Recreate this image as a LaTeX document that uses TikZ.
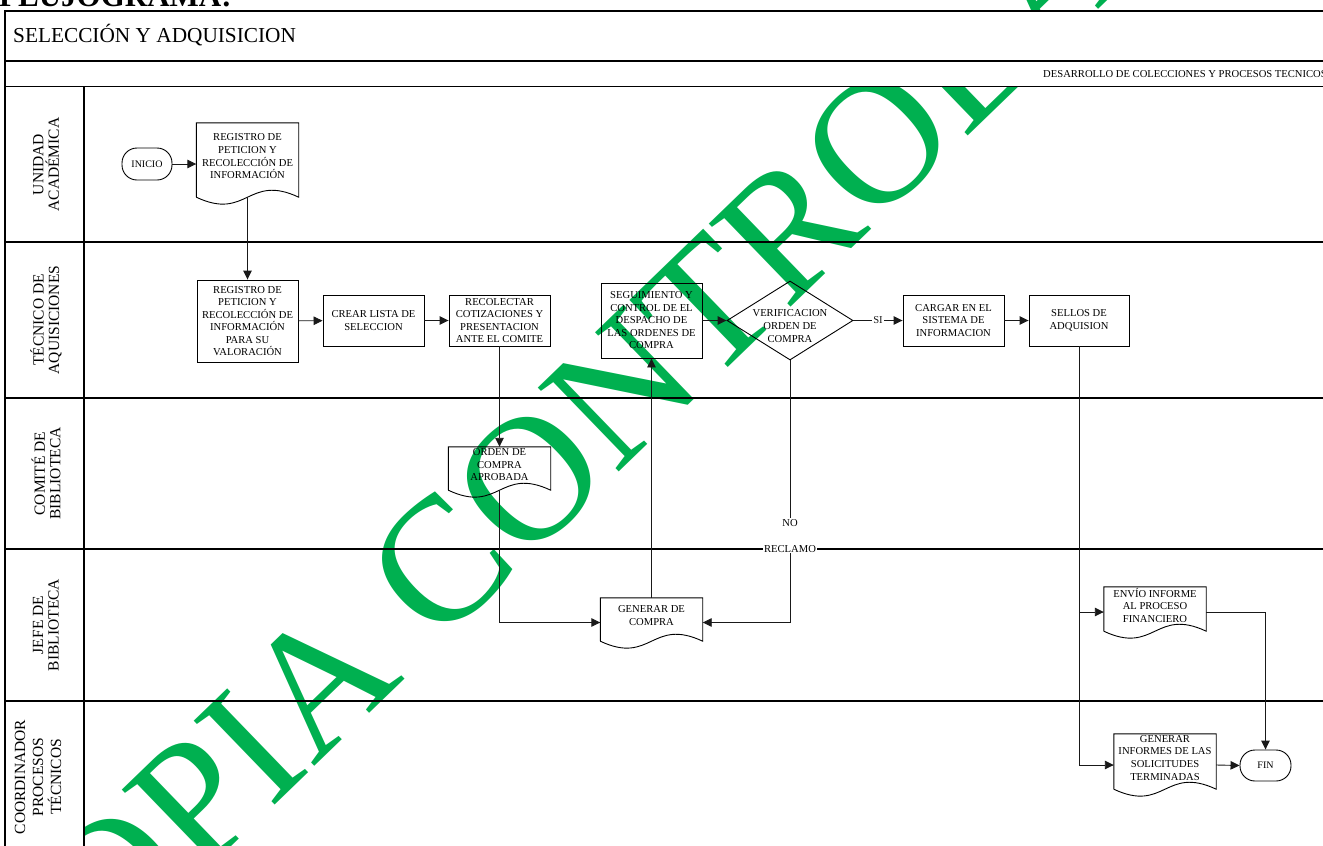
\documentclass[tikz,border=0pt]{standalone}
\usepackage{fontspec}
\setmainfont{Liberation Serif}
\usetikzlibrary{arrows.meta,shapes.geometric,calc}

\definecolor{wmgreen}{RGB}{0,176,80}
\definecolor{connector}{RGB}{25,25,25}

\tikzset{
  frameline/.style={line width=1.6pt, black},
  shapeline/.style={line width=0.9pt, black},
  boxtext/.style={align=center, inner sep=0pt, font=\fontsize{10.6}{12.6}\selectfont},
  procbox/.style={draw, shapeline, rectangle, inner xsep=2pt, inner ysep=0pt,
    align=center, font=\fontsize{10.6}{12.5}\selectfont},
  docframe/.style={rectangle, inner sep=0pt},
  terminal/.style={draw, shapeline, rectangle, rounded corners=15pt, inner sep=0pt,
    font=\fontsize{10}{12}\selectfont},
  decision/.style={draw, shapeline, diamond, inner sep=0pt},
  flow/.style={line width=0.9pt, connector, -{Triangle[length=9pt,width=8.5pt]}},
  lbl/.style={fill=white, inner xsep=1.2pt, inner ysep=1pt, font=\fontsize{10.6}{12.6}\selectfont},
  lanelabel/.style={rotate=90, align=center, inner sep=0pt, font=\fontsize{15.5}{15.5}\selectfont},
  watermark/.style={rotate=44, anchor=base west, inner sep=0pt, text=wmgreen,
    font=\fontsize{178}{178}\selectfont}
}

% document symbol: rectangle with a wavy lower edge, text set a little above its centre
\newcommand\flowdoc[6]{%
  \node[docframe, minimum width=#4pt, minimum height=#5pt] (#1) at (#2,#3) {};
  \draw[shapeline] (#1.south west) -- (#1.north west) -- (#1.north east) -- (#1.south east)
     .. controls +(-#4/2,-24) and +(#4/2,24) .. (#1.south west);
  \node[boxtext] (#1-txt) at ([yshift=3.7pt]#1.center) {#6};
}

\begin{document}
\begin{tikzpicture}[x=1pt, y=-1pt]
\useasboundingbox (0,0) rectangle (1323,846);

% background stamp
\node[watermark] (wm) at (21.5,1049.7) {COPIA CONTROLADA};

% page heading
\node[anchor=base west, inner sep=0pt, font=\bfseries\fontsize{31}{31}\selectfont] (heading) at (-1,6.5) {FLUJOGRAMA:};

% opaque header rows and lane-title column
\fill[white] (5,11) rectangle (1340,86.5);
\fill[white] (5,86.5) rectangle (84,870);

% swimlane frame
\draw[frameline] (5,870) -- (5,11) -- (1340,11);
\draw[frameline] (5,61) -- (1340,61);
\draw[frameline] (5,86.5) -- (1340,86.5);
\foreach \y in {242,398,549,701} \draw[frameline] (5,\y) -- (1340,\y);
\draw[frameline] (84,86.5) -- (84,870);

\node[anchor=base west, inner sep=0pt, font=\fontsize{21.3}{24}\selectfont] (title) at (13,42.5) {SELECCIÓN Y ADQUISICION};
\node[anchor=base east, inner sep=0pt, font=\fontsize{10.6}{12}\selectfont] (subtitle) at (1327,77) {DESARROLLO DE COLECCIONES Y PROCESOS TECNICOS};

% lane titles
\node[lanelabel] (lane1) at (46,164.5) {UNIDAD\\ACADÉMICA};
\node[lanelabel] (lane2) at (46,320) {TÉCNICO DE\\AQUISICIONES};
\node[lanelabel] (lane3) at (46,473.5) {COMITÉ DE\\BIBLIOTECA};
\node[lanelabel] (lane4) at (46,625) {JEFE DE\\BIBLIOTECA};
\node[lanelabel, font=\fontsize{15.5}{18}\selectfont] (lane5) at (38,777) {COORDINADOR\\PROCESOS\\TÉCNICOS};

% steps
\node[terminal, minimum width=50pt, minimum height=32pt] (ini) at (147,164) {INICIO};
\flowdoc{d1}{247.5}{160}{102}{74}{REGISTRO DE\\PETICION Y\\RECOLECCIÓN DE\\INFORMACIÓN}

\node[procbox, minimum width=101pt, minimum height=82pt] (b2) at (247.5,321) {REGISTRO DE\\PETICION Y\\RECOLECCIÓN DE\\INFORMACIÓN\\PARA SU\\VALORACIÓN};
\node[procbox, minimum width=101pt, minimum height=51pt] (b3) at (373.5,320.5) {CREAR LISTA DE\\SELECCION};
\node[procbox, minimum width=101pt, minimum height=51pt] (b4) at (499.5,320.5) {RECOLECTAR\\COTIZACIONES Y\\PRESENTACION\\ANTE EL COMITE};
\node[procbox, minimum width=101pt, minimum height=75pt] (b5) at (651.5,320.5) {SEGUIMIENTO Y\\CONTROL DE EL\\DESPACHO DE\\LAS ORDENES DE\\COMPRA};
\node[decision, minimum width=126pt, minimum height=79pt] (dec) at (790,320.5) {};
\node[boxtext] (dec-txt) at (790,326) {VERIFICACION\\ORDEN DE\\COMPRA};
\node[procbox, minimum width=101pt, minimum height=51pt] (b7) at (953.5,320.5) {CARGAR EN EL\\SISTEMA DE\\INFORMACION};
\node[procbox, minimum width=100pt, minimum height=51pt] (b8) at (1079,320.5) {SELLOS DE\\ADQUISION};

\flowdoc{d9}{499.5}{468.5}{102}{43}{ORDEN DE\\COMPRA\\APROBADA}
\flowdoc{d10}{651.5}{619.5}{102}{43}{GENERAR DE\\COMPRA}
\flowdoc{d11}{1155}{609}{102}{44}{ENVÍO INFORME\\AL PROCESO\\FINANCIERO}
\flowdoc{d12}{1165}{761.5}{102}{55}{GENERAR\\INFORMES DE LAS\\SOLICITUDES\\TERMINADAS}

\node[terminal, minimum width=51pt, minimum height=31pt] (fin) at (1265.5,765.5) {FIN};

% connectors
\draw[flow] ([yshift=-4pt]d1.west -| ini.east) -- ([yshift=-4pt]d1.west);
\draw[flow] (d1.south) -- (b2.north);
\draw[flow] (b2) -- (b3);
\draw[flow] (b3) -- (b4);
\draw[flow] (b4.south) -- (d9.north);
\draw[flow] (d9.south) |- ([yshift=-3pt]d10.west);
\draw[flow] (d10.north) -- (b5.south);
\draw[flow] (b5) -- (dec);
\draw[flow] (dec.east) -- node[lbl] (si) {SI} (b7.west);
\draw[flow] (b7) -- (b8);
\draw[flow] (dec.south) |- ([yshift=-3pt]d10.east);
\node[lbl, align=center, font=\fontsize{10.6}{26}\selectfont] (reclamo) at (790,535.7) {NO\\RECLAMO};
\draw[flow] (b8.south) |- ([yshift=-3pt]d11.west);
\draw[flow] (b8.south) |- ([yshift=-3.5pt]d12.west);
\draw[flow] ([yshift=-3pt]d11.east) -| (fin.north);
\draw[flow] ([yshift=-3.5pt]d12.east) -- (fin.west);
\end{tikzpicture}
\end{document}
